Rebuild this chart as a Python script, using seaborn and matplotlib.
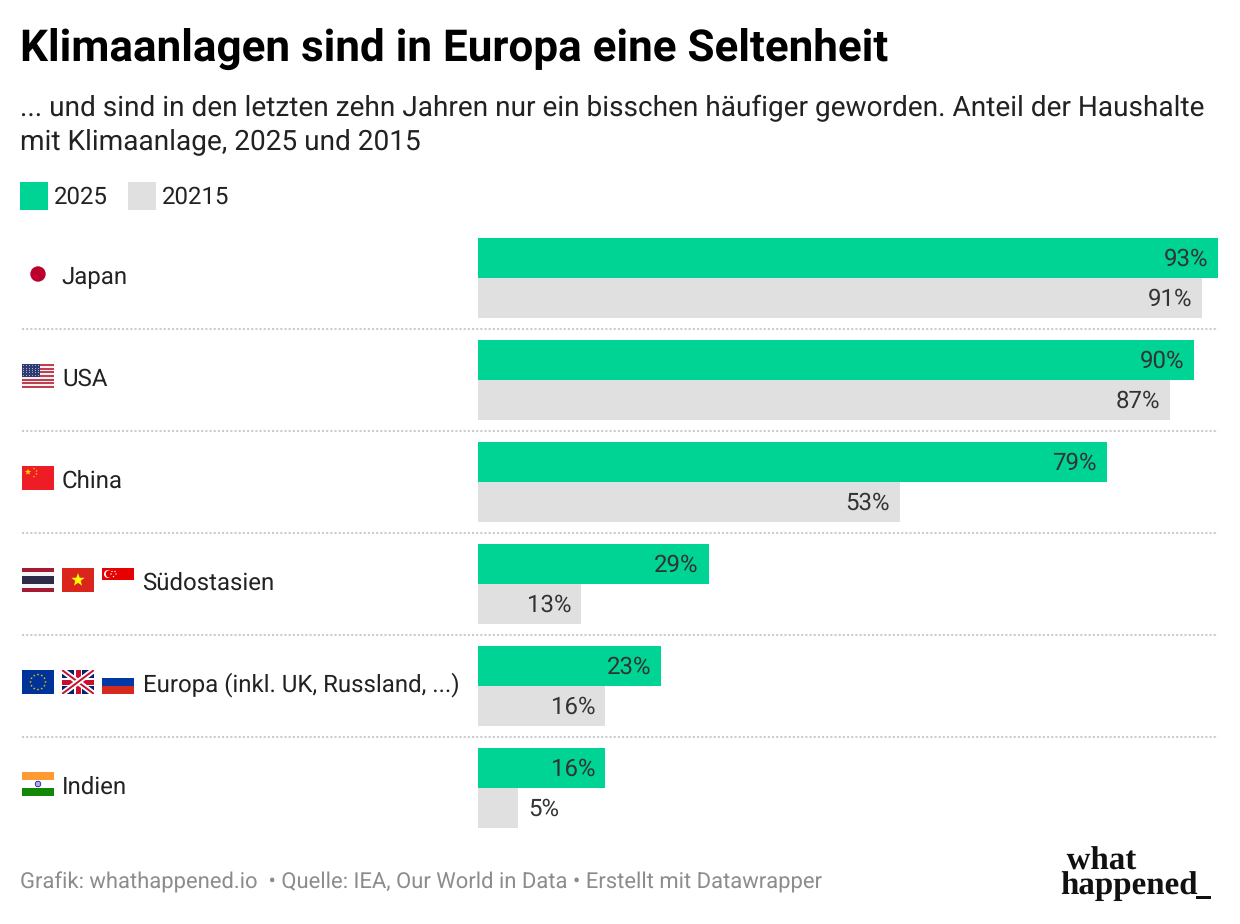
import matplotlib
matplotlib.use("Agg")
import matplotlib.pyplot as plt
from matplotlib.patches import Rectangle, Circle, Polygon
from matplotlib.transforms import ScaledTranslation
import numpy as np
import pandas as pd
import seaborn as sns

TITLE = "Klimaanlagen sind in Europa eine Seltenheit"
SUBTITLE = ["... und sind in den letzten zehn Jahren nur ein bisschen häufiger geworden. Anteil der Haushalte",
            "mit Klimaanlage, 2025 und 2015"]
FOOTER = "Grafik: whathappened.io  • Quelle: IEA, Our World in Data • Erstellt mit Datawrapper"
regions = ["Japan", "USA", "China", "Südostasien", "Europa (inkl. UK, Russland, ...)", "Indien"]
series_names = ["2025", "20215"]
values_2025 = [93, 90, 79, 29, 23, 16]
values_2015 = [91, 87, 53, 13, 16, 5]
colors = ["#00d494", "#e0e0e0"]

W, H = 1240, 924
sns.set_theme(style="white")
plt.rcParams["font.family"] = ["Roboto", "DejaVu Sans"]
plt.rcParams["text.hinting"] = "no_hinting"
plt.rcParams["text.hinting_factor"] = 1
PT = 0.72  # points per pixel at dpi 100

df = pd.DataFrame({
    "Region": regions * 2,
    "Anteil": values_2025 + values_2015,
    "Jahr": [series_names[0]] * 6 + [series_names[1]] * 6,
})

fig = plt.figure(figsize=(W / 100, H / 100), dpi=100, facecolor="white")

# pixel-coordinate overlay for decoration
ov = fig.add_axes([0, 0, 1, 1], zorder=0)
ov.set_xlim(0, W)
ov.set_ylim(H, 0)
ov.axis("off")

# chart axes
left, right, top, bottom = 478, 1218, 227, 839
ax = fig.add_axes([left / W, 1 - bottom / H, (right - left) / W, (bottom - top) / H], zorder=1)
ax.patch.set_alpha(0)
sns.barplot(data=df, y="Region", x="Anteil", hue="Jahr", hue_order=series_names,
            palette=colors, saturation=1, width=80 / 102, gap=0, linewidth=0, edgecolor="none", ax=ax)
ax.set_xlim(0, 93)
ax.set_ylim(5.5, -0.5)
ax.set_xlabel("")
ax.set_ylabel("")
ax.set_xticks([])
sns.despine(ax=ax, left=True, bottom=True)
ax.tick_params(axis="y", length=0)
ax.set_yticks(range(len(regions)))
ax.set_yticklabels(regions, fontsize=24 * PT, color="#222222", ha="left", va="baseline")
pads = [416.5, 416, 416, 335.5, 335, 416]
rises = [7, 6, 6, 6, 7, 6]
for tick, pad, rise in zip(ax.yaxis.get_major_ticks(), pads, rises):
    tick.set_pad(pad * PT)
    tick.label1.set_transform(tick.label1.get_transform()
                              + ScaledTranslation(0, -(12 - rise) / 100, fig.dpi_scale_trans)
                              + ScaledTranslation(0, 0, fig.dpi_scale_trans))

# value labels
for container, vals in zip(ax.containers, [values_2025, values_2015]):
    for bar, v in zip(container, vals):
        inside = v >= 10
        ax.annotate(f"{v}%", (v, bar.get_y() + bar.get_height() / 2),
                    xytext=(-10 * PT if inside else 10 * PT, 0.7), textcoords="offset points",
                    ha="right" if inside else "left", va="center_baseline",
                    fontsize=24 * PT, color="#333333")

# legend
handles, labels = ax.get_legend_handles_labels()
ax.legend(handles, labels, loc="upper left", bbox_to_anchor=(20 / W, 1 - 182 / H),
          bbox_transform=fig.transFigure, ncols=2, frameon=False, fontsize=24 * PT,
          handlelength=28 / 24, handleheight=1.418, handletextpad=6 / 24,
          columnspacing=20 / 24, borderpad=0, borderaxespad=0, labelcolor="#222222")

# separators
for y in [328.5, 430.5, 532.5, 634.5, 736.5]:
    ov.plot([22, 1218], [y, y], color="#cccccc", lw=1.5, ls=(0, (1, 1)), solid_capstyle="butt")

# texts
ov.text(20, 60.5, TITLE, fontsize=43.95 * PT, fontweight="bold", color="#000000", va="baseline")
ov.text(20, 116, SUBTITLE[0], fontsize=27.95 * PT, color="#222222", va="baseline")
ov.text(20, 149.4, SUBTITLE[1], fontsize=27.95 * PT, color="#222222", va="baseline")
ov.text(20, 889, FOOTER, fontsize=21.95 * PT, color="#8c8c8c", va="baseline")
ov.text(1060, 893.5, "\u2009what\nhappened", fontsize=32.6 * PT, family=["Liberation Serif"],
        fontweight="bold", color="#111111", va="baseline", ha="left", linespacing=0.72)
ov.add_patch(Rectangle((1196, 896), 15, 2.5, color="#111111", lw=0))


# flags -------------------------------------------------------------
def rect(x, y, w, h, c):
    return ov.add_patch(Rectangle((x, y), w, h, facecolor=c, edgecolor="none"))


def star(cx, cy, r, c, rot=0):
    a = np.deg2rad(np.arange(10) * 36 - 90 + rot)
    rr = np.where(np.arange(10) % 2 == 0, r, r * 0.4)
    ov.add_patch(Polygon(np.c_[cx + rr * np.cos(a), cy + rr * np.sin(a)], facecolor=c, edgecolor="none"))


def japan(x, y):
    ov.add_patch(Circle((x + 16, y + 8), 7.7, facecolor="#bc002d", edgecolor="none"))


def usa(x, y):
    h = 24 / 13
    for i in range(13):
        rect(x, y + i * h, 32, h, "#bf3f52" if i % 2 == 0 else "#f4f0f0")
    rect(x, y, 18, 7 * h, "#2f3b70")
    for i in range(5):
        for j in range(6):
            rect(x + 1 + j * 2.9, y + 1.2 + i * 2.4, 1, 1, "#aab0cc")


def china(x, y):
    rect(x, y, 32, 24, "#ee1c25")
    star(x + 6, y + 6, 3.4, "#ffd400")
    for dx, dy in [(12, 2.5), (14.5, 5), (14.5, 8), (12, 10.5)]:
        star(x + dx, y + dy, 1.2, "#ffd400")


def thailand(x, y):
    for yy, hh, c in [(0, 4, "#a51931"), (4, 4, "#f4f5f8"), (8, 8, "#2d2a4a"), (16, 4, "#f4f5f8"), (20, 4, "#a51931")]:
        rect(x, y + yy, 32, hh, c)


def vietnam(x, y):
    rect(x, y, 32, 24, "#da251d")
    star(x + 16, y + 12, 7, "#ffff00")


def singapore(x, y):
    rect(x, y, 32, 12, "#e60000")
    ov.add_patch(Circle((x + 6, y + 6), 4, facecolor="white", edgecolor="none"))
    ov.add_patch(Circle((x + 7.5, y + 6), 3.7, facecolor="#e60000", edgecolor="none"))
    for dx, dy in [(10, 3.5), (13, 3.5), (14, 6), (11.5, 8.5), (9, 6)]:
        ov.add_patch(Circle((x + dx, y + dy), 0.7, facecolor="white", edgecolor="none"))


def eu(x, y):
    rect(x, y, 32, 24, "#003399")
    for k in range(12):
        a = np.deg2rad(k * 30)
        star(x + 16 + 7.5 * np.cos(a), y + 12 + 7.5 * np.sin(a), 1.3, "#ffcc00")


def uk(x, y):
    bg = rect(x, y, 32, 24, "#012169")
    for x0, x1, y0, y1 in [(x, x + 32, y, y + 24), (x, x + 32, y + 24, y)]:
        for c, lw in [("white", 4.2), ("#c8102e", 1.4)]:
            line, = ov.plot([x0, x1], [y0, y1], color=c, lw=lw, solid_capstyle="projecting")
            line.set_clip_path(bg)
    rect(x + 12, y, 8, 24, "white")
    rect(x, y + 8, 32, 8, "white")
    rect(x + 13.5, y, 5, 24, "#c8102e")
    rect(x, y + 9.5, 32, 5, "#c8102e")


def russia(x, y):
    rect(x, y, 32, 8, "white")
    rect(x, y + 8, 32, 8, "#0039a6")
    rect(x, y + 16, 32, 8, "#d52b1e")


def india(x, y):
    rect(x, y, 32, 8, "#ff9933")
    rect(x, y + 8, 32, 8, "white")
    rect(x, y + 16, 32, 8, "#138808")
    ov.add_patch(Circle((x + 16, y + 12), 2.8, facecolor="#aab0dd", edgecolor="#000080", lw=0.5))


japan(22, 266)
usa(22, 364)
china(22, 466)
thailand(22, 568)
vietnam(62, 568)
singapore(102, 568)
eu(22, 670)
uk(62, 670)
russia(102, 670)
india(22, 772)

fig.savefig("out.png", dpi=100, facecolor="white")
